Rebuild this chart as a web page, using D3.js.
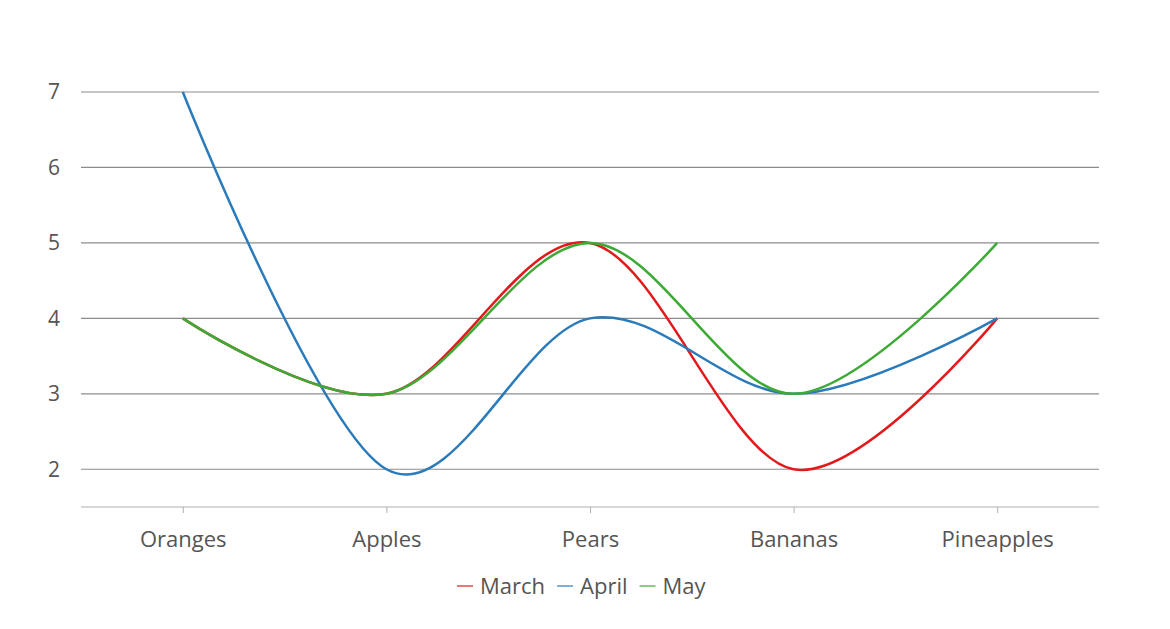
<!DOCTYPE html>
<html><head><meta charset="utf-8">
<script src="https://cdn.jsdelivr.net/npm/d3@7"></script>
<style>body{margin:0;background:#fff;} text{font-family:"Open Sans","Noto Sans",sans-serif;}</style>
</head><body>
<svg id="c" width="1170" height="629"></svg>
<script>
const categories = ["Oranges","Apples","Pears","Bananas","Pineapples"];
const seriesNames = ["March","April","May"];
const march = [4,3,5,2,4];
const april = [7,2,4,3,4];
const may = [4,3,5,3,5];
const yTicks = [2,3,4,5,6,7];
const colors = ["#e31a1c","#2b7bba","#3daa35"];

const svg = d3.select("#c");
const L=81, R=1099, T=92, B=507;
const x = d3.scalePoint().domain(categories).range([L,R]).padding(0.5);
const y = d3.scaleLinear().domain([1.5,7]).range([B,T]);

svg.append("g").selectAll("line").data(yTicks).join("line")
  .attr("x1",L).attr("x2",R).attr("y1",d=>y(d)).attr("y2",d=>y(d))
  .attr("stroke","#8c8c8c").attr("stroke-width",1.2);
svg.append("g").selectAll("text").data(yTicks).join("text")
  .attr("x",60).attr("y",d=>y(d)).attr("dy","0.35em").attr("text-anchor","end")
  .attr("font-size",21).attr("fill","#555").text(d=>d);

const xa = svg.append("g").attr("transform",`translate(0,${B})`)
  .call(d3.axisBottom(x).tickSize(6).tickSizeOuter(0).tickPadding(18));
xa.select(".domain").attr("stroke","#b0b0b0").attr("stroke-width",1.2).attr("d",`M${L},0H${R}`);
xa.selectAll(".tick line").attr("stroke","#b0b0b0");
xa.selectAll(".tick text").attr("font-size",22).attr("fill","#555")
  .style("font-family",'"Open Sans","Noto Sans",sans-serif');

const data=[march,april,may];
const line = d3.line().x((d,i)=>x(categories[i])).y(d=>y(d)).curve(d3.curveCardinal.tension(0));
svg.append("g").selectAll("path").data(data).join("path")
  .attr("d",line).attr("fill","none").attr("stroke",(d,i)=>colors[i]).attr("stroke-width",2.5);

// legend
const leg = svg.append("g");
let lx = 457;
const ly = 586;
seriesNames.forEach((n,i)=>{
  leg.append("line").attr("x1",lx).attr("x2",lx+16).attr("y1",ly).attr("y2",ly)
    .attr("stroke",colors[i]).attr("stroke-width",1.2);
  const t = leg.append("text").attr("x",lx+23).attr("y",ly).attr("dy","0.35em")
    .attr("font-size",22).attr("fill","#555").text(n);
  lx += 23 + t.node().getComputedTextLength() + 12;
});
</script>
</body></html>
